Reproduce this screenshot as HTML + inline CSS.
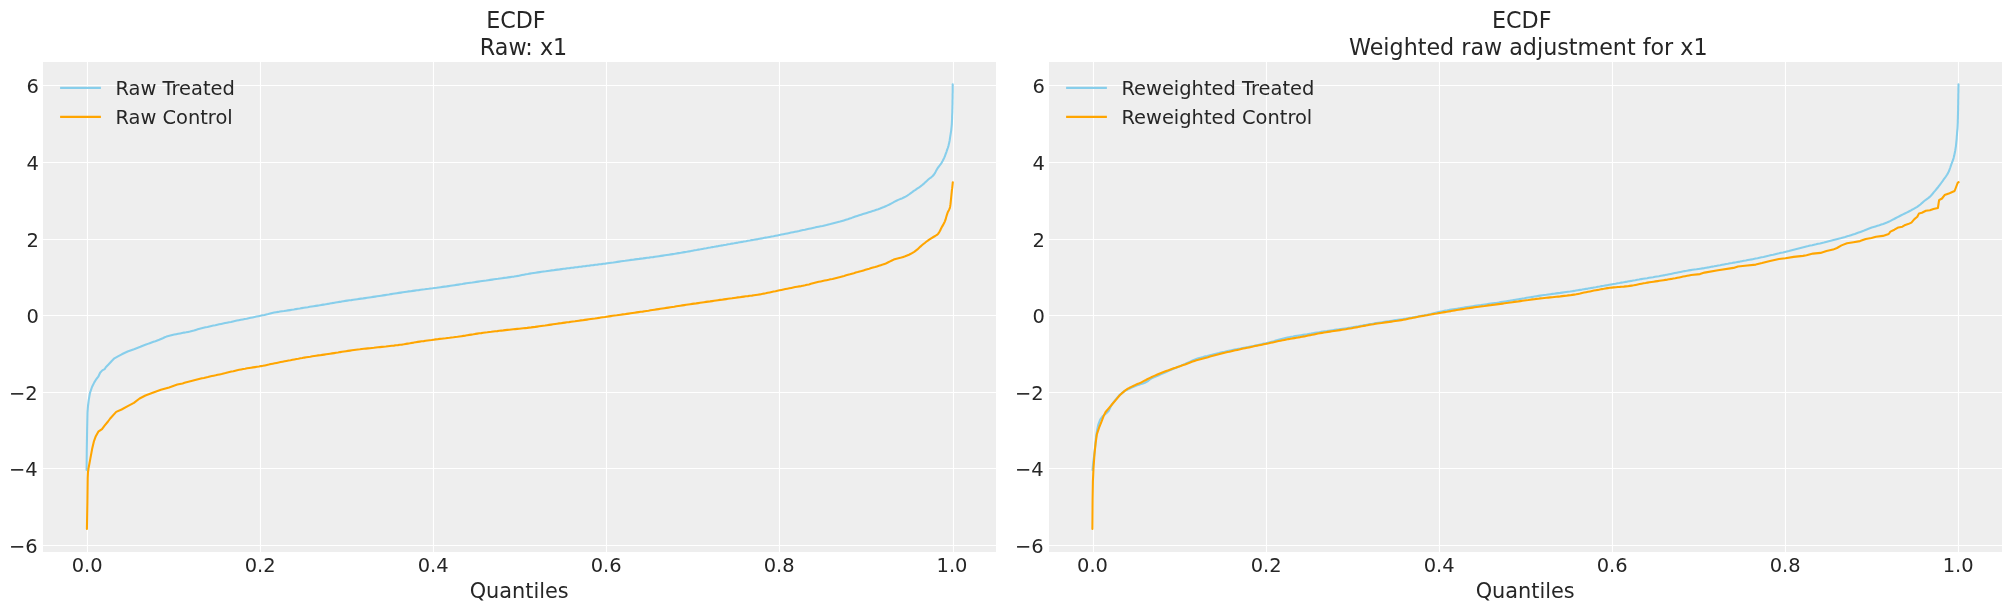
<!DOCTYPE html>
<html lang="en"><head><meta charset="utf-8"><title>ECDF</title>
<style>html,body{margin:0;padding:0;background:#fff}svg{display:block;will-change:transform;transform:translateZ(0)}text{font-family:"DejaVu Sans","Liberation Sans",sans-serif;fill:#262626}.tk{font-size:19.44px}.lb{font-size:20.83px}.tt{font-size:22.22px}.lg{font-size:19.44px}</style></head><body>
<svg width="2011" height="611" viewBox="0 0 2011 611">
<rect width="2011" height="611" fill="#ffffff"/>
<g id="panel0">
<rect x="43.0" y="62.0" width="953.0" height="490.0" fill="#eeeeee"/>
<path d="M87.5 62.0V552.0M260.5 62.0V552.0M433.5 62.0V552.0M606.5 62.0V552.0M779.5 62.0V552.0M953.5 62.0V552.0M43.0 85.5H996.0M43.0 162.5H996.0M43.0 239.5H996.0M43.0 315.5H996.0M43.0 392.5H996.0M43.0 468.5H996.0M43.0 545.5H996.0" stroke="#ffffff" stroke-width="1.11" fill="none"/>
<clipPath id="clip0"><rect x="43.0" y="62.0" width="953.0" height="490.0"/></clipPath>
<g clip-path="url(#clip0)">
<polyline points="86.6,470.0 86.8,449.1 87.1,430.7 87.5,412.3 88.0,406.0 88.8,399.6 90.0,392.8 92.0,387.0 94.3,382.4 96.4,379.0 98.3,376.7 100.1,372.7 102.3,370.4 104.6,369.2 105.8,367.3 108.7,364.3 111.5,361.2 114.4,358.3 118.4,356.1 121.8,354.3 127.6,351.5 134.0,349.2 134.7,348.9 136.6,348.2 138.5,347.5 140.4,346.8 142.2,346.0 144.1,345.3 146.0,344.6 147.8,343.9 149.7,343.2 151.6,342.5 153.5,341.8 155.4,341.2 157.3,340.5 159.2,339.8 161.0,339.0 162.8,338.2 164.7,337.3 166.5,336.6 168.4,336.0 170.3,335.5 172.3,335.0 174.3,334.6 176.2,334.2 178.2,333.8 180.2,333.4 182.1,333.0 184.1,332.6 186.1,332.3 188.1,331.9 190.0,331.5 192.0,331.0 193.9,330.5 195.8,329.9 197.7,329.3 199.7,328.8 201.6,328.3 203.6,327.8 205.5,327.3 207.5,326.9 209.4,326.4 211.4,326.0 213.3,325.6 215.3,325.2 217.3,324.7 219.2,324.3 221.2,323.9 223.1,323.5 225.1,323.1 227.1,322.7 229.0,322.3 231.0,321.9 233.0,321.4 234.9,321.0 236.9,320.6 238.8,320.2 240.8,319.8 242.8,319.4 244.7,319.0 246.7,318.7 248.7,318.2 250.6,317.8 252.6,317.4 254.6,317.0 256.5,316.6 258.5,316.2 260.4,315.8 262.4,315.3 264.4,314.9 266.3,314.4 268.3,314.0 270.2,313.5 272.2,313.0 274.1,312.6 276.1,312.2 278.1,311.9 280.0,311.5 282.0,311.2 284.0,311.0 286.0,310.7 288.0,310.4 290.0,310.1 291.9,309.8 293.9,309.5 295.9,309.1 297.9,308.8 299.9,308.5 301.8,308.1 303.8,307.8 305.8,307.5 307.8,307.2 309.7,306.8 311.7,306.5 313.7,306.2 315.7,305.9 317.7,305.6 319.6,305.3 321.6,304.9 323.6,304.6 325.6,304.3 327.6,303.9 329.5,303.6 331.5,303.2 333.5,302.9 335.5,302.5 337.4,302.2 339.4,301.9 341.4,301.6 343.4,301.2 345.4,300.9 347.3,300.6 349.3,300.3 351.3,300.1 353.3,299.8 355.3,299.5 357.3,299.2 359.2,298.9 361.2,298.6 363.2,298.4 365.2,298.1 367.2,297.8 369.2,297.5 371.2,297.2 373.1,296.9 375.1,296.6 377.1,296.3 379.1,296.0 381.1,295.7 383.1,295.4 385.0,295.1 387.0,294.8 389.0,294.5 391.0,294.1 393.0,293.8 394.9,293.5 396.9,293.2 398.9,292.9 400.9,292.6 402.9,292.3 404.8,292.0 406.8,291.7 408.8,291.4 410.8,291.2 412.8,290.9 414.8,290.6 416.8,290.3 418.7,290.1 420.7,289.8 422.7,289.5 424.7,289.3 426.7,289.0 428.7,288.8 430.7,288.5 432.7,288.3 434.7,288.0 436.6,287.8 438.6,287.5 440.6,287.2 442.6,286.9 444.6,286.6 446.6,286.4 448.6,286.1 450.5,285.8 452.5,285.5 454.5,285.2 456.5,284.9 458.5,284.6 460.4,284.3 462.4,284.0 464.4,283.6 466.4,283.3 468.4,283.0 470.4,282.7 472.3,282.5 474.3,282.2 476.3,281.9 478.3,281.6 480.3,281.3 482.3,281.0 484.3,280.7 486.2,280.5 488.2,280.2 490.2,279.9 492.2,279.6 494.2,279.3 496.2,279.0 498.1,278.8 500.1,278.5 502.1,278.2 504.1,277.9 506.1,277.7 508.1,277.4 510.1,277.1 512.1,276.8 514.0,276.6 516.0,276.2 518.0,275.9 520.0,275.5 521.9,275.1 523.9,274.7 525.9,274.3 527.8,274.0 529.8,273.6 531.8,273.3 533.8,273.0 535.7,272.7 537.7,272.4 539.7,272.1 541.7,271.8 543.7,271.5 545.7,271.3 547.7,271.0 549.6,270.7 551.6,270.4 553.6,270.2 555.6,269.9 557.6,269.6 559.6,269.4 561.6,269.1 563.6,268.8 565.5,268.6 567.5,268.3 569.5,268.1 571.5,267.8 573.5,267.6 575.5,267.3 577.5,267.1 579.5,266.8 581.5,266.6 583.5,266.3 585.4,266.1 587.4,265.8 589.4,265.6 591.4,265.3 593.4,265.1 595.4,264.8 597.4,264.6 599.4,264.3 601.4,264.1 603.3,263.8 605.3,263.6 607.3,263.3 609.3,263.0 611.3,262.7 613.3,262.5 615.3,262.2 617.3,261.9 619.2,261.6 621.2,261.3 623.2,261.0 625.2,260.8 627.2,260.5 629.2,260.2 631.1,259.9 633.1,259.7 635.1,259.4 637.1,259.1 639.1,258.9 641.1,258.6 643.1,258.4 645.1,258.1 647.1,257.8 649.0,257.6 651.0,257.3 653.0,257.1 655.0,256.8 657.0,256.5 659.0,256.2 661.0,255.9 662.9,255.6 664.9,255.3 666.9,255.0 668.9,254.7 670.9,254.4 672.8,254.1 674.8,253.8 676.8,253.4 678.8,253.1 680.8,252.8 682.7,252.4 684.7,252.1 686.7,251.8 688.7,251.4 690.6,251.1 692.6,250.7 694.6,250.3 696.6,250.0 698.5,249.6 700.5,249.3 702.5,248.9 704.4,248.5 706.4,248.2 708.4,247.8 710.4,247.5 712.3,247.1 714.3,246.8 716.3,246.4 718.3,246.1 720.2,245.7 722.2,245.4 724.2,245.0 726.2,244.7 728.1,244.3 730.1,244.0 732.1,243.6 734.1,243.3 736.0,242.9 738.0,242.6 740.0,242.2 742.0,241.9 743.9,241.5 745.9,241.2 747.9,240.8 749.9,240.5 751.8,240.1 753.8,239.8 755.8,239.4 757.8,239.1 759.7,238.7 761.7,238.4 763.7,238.0 765.6,237.6 767.6,237.3 769.6,236.9 771.6,236.5 773.5,236.2 775.5,235.8 777.5,235.4 779.4,235.0 781.4,234.6 783.4,234.2 785.3,233.8 787.3,233.4 789.3,233.0 791.2,232.6 793.2,232.2 795.1,231.8 797.1,231.4 799.1,231.0 801.0,230.5 803.0,230.1 804.9,229.7 806.9,229.2 808.9,228.8 810.8,228.4 812.8,228.0 814.8,227.6 816.7,227.1 818.7,226.7 820.6,226.3 822.6,225.9 824.6,225.4 826.5,225.0 828.5,224.5 830.4,224.1 832.4,223.6 834.3,223.1 836.3,222.6 838.2,222.1 840.1,221.6 842.0,221.0 843.9,220.4 845.8,219.8 847.8,219.2 849.7,218.5 851.6,217.9 853.4,217.2 855.3,216.5 857.2,215.9 859.2,215.3 861.1,214.7 863.0,214.1 864.9,213.5 866.8,212.9 868.7,212.3 870.7,211.7 872.6,211.1 874.5,210.5 876.4,209.8 878.3,209.2 880.1,208.5 882.0,207.7 883.9,207.0 885.7,206.2 887.5,205.4 889.4,204.5 891.1,203.6 892.9,202.6 894.6,201.6 896.4,200.7 898.2,199.9 900.1,199.1 902.0,198.4 903.8,197.5 905.6,196.6 907.3,195.6 908.9,194.5 910.5,193.3 912.2,192.1 913.8,190.9 915.5,189.8 917.1,188.7 918.8,187.6 920.5,186.4 922.0,185.2 923.6,183.9 925.0,182.6 926.5,181.2 928.0,179.8 929.5,178.5 931.2,177.3 932.7,176.0 934.0,174.5 935.1,172.9 936.0,171.1 937.0,169.3 938.0,167.6 939.3,166.0 940.5,164.4 941.6,162.8 942.6,161.0 943.5,159.2 944.4,157.4 945.1,155.6 945.8,153.7 946.5,151.8 947.1,149.9 947.8,148.0 948.4,146.1 948.9,144.1 949.3,142.2 949.7,140.2 950.0,138.2 950.3,136.2 950.6,134.3 950.9,132.3 951.2,130.3 951.4,128.3 951.6,126.3 951.8,124.3 951.9,122.3 952.0,120.3 952.1,118.3 952.1,116.3 952.2,114.3 952.3,112.3 952.3,110.3 952.4,108.3 952.4,106.3 952.5,104.3 952.5,102.2 952.5,100.2 952.6,98.2 952.6,96.2 952.6,94.2 952.7,92.2 952.7,90.2 952.7,88.2 952.7,86.2 952.7,84.2" fill="none" stroke="#87ceeb" stroke-width="2.08" stroke-linejoin="round" stroke-linecap="round"/>
<polyline points="86.9,528.9 87.4,502.0 87.7,478.0 88.0,472.0 88.5,468.5 90.3,458.9 92.1,449.1 94.0,441.1 95.8,436.2 98.3,431.7 102.0,429.1 104.4,425.8 108.0,421.5 110.2,418.5 116.2,411.9 121.6,409.5 128.2,405.9 133.9,402.9 139.6,398.5 145.4,395.5 152.7,392.8 160.9,389.8 169.1,387.4 177.3,384.6 182.6,383.4 184.5,382.8 186.4,382.3 188.4,381.8 190.3,381.3 192.3,380.8 194.2,380.3 196.1,379.8 198.1,379.3 200.0,378.8 202.0,378.3 203.9,377.9 205.9,377.4 207.9,377.0 209.8,376.5 211.8,376.1 213.7,375.7 215.7,375.3 217.7,374.8 219.6,374.4 221.6,374.0 223.6,373.5 225.5,373.1 227.5,372.6 229.4,372.1 231.4,371.6 233.3,371.2 235.3,370.7 237.2,370.2 239.2,369.8 241.2,369.4 243.1,369.0 245.1,368.7 247.1,368.3 249.1,368.0 251.1,367.7 253.0,367.4 255.0,367.1 257.0,366.8 259.0,366.5 261.0,366.1 262.9,365.8 264.9,365.4 266.9,365.0 268.8,364.6 270.8,364.1 272.8,363.7 274.7,363.3 276.7,362.9 278.7,362.5 280.6,362.1 282.6,361.7 284.6,361.3 286.5,360.9 288.5,360.5 290.5,360.2 292.5,359.8 294.4,359.4 296.4,359.0 298.4,358.7 300.4,358.3 302.3,358.0 304.3,357.6 306.3,357.3 308.3,357.0 310.3,356.7 312.3,356.3 314.2,356.0 316.2,355.7 318.2,355.4 320.2,355.2 322.2,354.9 324.2,354.6 326.2,354.3 328.1,354.0 330.1,353.7 332.1,353.4 334.1,353.1 336.1,352.8 338.1,352.5 340.1,352.1 342.0,351.8 344.0,351.5 346.0,351.2 348.0,350.9 350.0,350.6 352.0,350.3 354.0,350.0 355.9,349.7 357.9,349.5 359.9,349.3 361.9,349.0 363.9,348.8 365.9,348.6 367.9,348.4 369.9,348.2 371.9,348.0 373.9,347.8 375.9,347.5 377.9,347.3 379.9,347.1 381.9,346.9 383.9,346.7 385.9,346.5 387.9,346.2 389.9,346.0 391.9,345.8 393.9,345.6 395.9,345.3 397.9,345.1 399.9,344.8 401.8,344.6 403.8,344.3 405.8,343.9 407.8,343.6 409.8,343.3 411.7,342.9 413.7,342.6 415.7,342.2 417.7,341.9 419.7,341.6 421.7,341.3 423.7,341.1 425.6,340.8 427.6,340.5 429.6,340.2 431.6,340.0 433.6,339.7 435.6,339.4 437.6,339.2 439.6,338.9 441.6,338.7 443.6,338.5 445.6,338.3 447.6,338.0 449.6,337.8 451.6,337.5 453.5,337.3 455.5,337.0 457.5,336.8 459.5,336.5 461.5,336.2 463.5,335.9 465.5,335.6 467.4,335.2 469.4,334.9 471.4,334.6 473.4,334.3 475.4,333.9 477.4,333.6 479.3,333.3 481.3,333.1 483.3,332.8 485.3,332.5 487.3,332.3 489.3,332.0 491.3,331.8 493.3,331.5 495.3,331.3 497.3,331.1 499.3,330.8 501.3,330.6 503.3,330.4 505.3,330.1 507.3,329.9 509.3,329.7 511.3,329.5 513.3,329.3 515.2,329.1 517.2,328.9 519.2,328.7 521.2,328.5 523.2,328.3 525.2,328.1 527.2,327.9 529.2,327.6 531.2,327.4 533.2,327.1 535.2,326.9 537.2,326.6 539.2,326.3 541.2,326.0 543.2,325.7 545.1,325.5 547.1,325.2 549.1,324.9 551.1,324.6 553.1,324.3 555.1,324.0 557.1,323.7 559.1,323.4 561.1,323.2 563.0,322.9 565.0,322.6 567.0,322.3 569.0,322.1 571.0,321.8 573.0,321.5 575.0,321.3 577.0,321.0 579.0,320.7 580.9,320.4 582.9,320.2 584.9,319.9 586.9,319.6 588.9,319.3 590.9,319.0 592.9,318.7 594.9,318.5 596.9,318.2 598.8,317.9 600.8,317.5 602.8,317.2 604.8,317.0 606.8,316.7 608.8,316.4 610.8,316.1 612.7,315.8 614.7,315.5 616.7,315.3 618.7,315.0 620.7,314.7 622.7,314.4 624.7,314.2 626.7,313.9 628.7,313.6 630.6,313.3 632.6,313.0 634.6,312.7 636.6,312.4 638.6,312.1 640.6,311.8 642.6,311.6 644.6,311.3 646.5,311.0 648.5,310.7 650.5,310.3 652.5,310.0 654.5,309.7 656.5,309.4 658.5,309.1 660.4,308.8 662.4,308.5 664.4,308.2 666.4,307.9 668.4,307.6 670.4,307.3 672.3,307.0 674.3,306.7 676.3,306.3 678.3,306.0 680.3,305.7 682.3,305.4 684.3,305.1 686.2,304.8 688.2,304.5 690.2,304.2 692.2,303.9 694.2,303.6 696.2,303.4 698.2,303.1 700.1,302.8 702.1,302.5 704.1,302.2 706.1,301.9 708.1,301.6 710.1,301.4 712.1,301.1 714.1,300.8 716.1,300.5 718.0,300.2 720.0,299.9 722.0,299.7 724.0,299.4 726.0,299.1 728.0,298.8 730.0,298.5 732.0,298.3 734.0,298.0 735.9,297.7 737.9,297.4 739.9,297.2 741.9,296.9 743.9,296.6 745.9,296.3 747.9,296.1 749.9,295.8 751.9,295.6 753.9,295.3 755.8,295.0 757.8,294.7 759.8,294.4 761.8,294.0 763.8,293.6 765.7,293.3 767.7,292.8 769.7,292.4 771.6,292.0 773.6,291.6 775.5,291.2 777.5,290.7 779.5,290.3 781.4,289.9 783.4,289.5 785.4,289.1 787.3,288.7 789.3,288.3 791.3,287.9 793.2,287.5 795.2,287.1 797.2,286.7 799.2,286.4 801.2,286.1 803.1,285.7 805.1,285.3 807.0,284.8 809.0,284.4 810.9,283.8 812.9,283.3 814.8,282.8 816.8,282.3 818.7,281.8 820.7,281.4 822.7,281.0 824.6,280.6 826.6,280.2 828.6,279.8 830.5,279.3 832.5,278.9 834.4,278.4 836.4,277.9 838.3,277.4 840.3,276.9 842.2,276.4 844.1,275.9 846.1,275.3 848.0,274.8 849.9,274.3 851.9,273.7 853.8,273.2 855.7,272.6 857.7,272.1 859.6,271.5 861.5,271.0 863.5,270.4 865.4,269.8 867.3,269.2 869.2,268.7 871.2,268.1 873.1,267.5 875.0,267.0 877.0,266.4 878.9,265.8 880.8,265.2 882.7,264.6 884.6,263.9 886.4,263.2 888.3,262.3 890.1,261.4 891.9,260.5 893.7,259.6 895.6,258.9 897.5,258.4 899.4,257.9 901.4,257.5 903.3,256.9 905.2,256.3 907.1,255.5 909.0,254.7 910.8,253.8 912.5,252.8 914.2,251.8 915.8,250.6 917.4,249.4 918.9,248.0 920.4,246.6 921.9,245.3 923.4,244.0 925.0,242.8 926.6,241.5 928.2,240.3 929.9,239.2 931.6,238.1 933.4,237.0 935.2,236.0 936.9,234.9 938.2,233.7 939.3,232.1 940.3,230.3 941.1,228.4 942.1,226.6 943.1,224.9 944.1,223.1 944.9,221.3 945.6,219.4 946.1,217.5 946.7,215.5 947.3,213.6 948.0,211.7 949.0,209.9 949.8,208.1 950.2,206.2 950.5,204.2 950.7,202.2 950.9,200.2 951.1,198.2 951.3,196.2 951.5,194.2 951.7,192.2 951.9,190.2 952.2,188.2 952.4,186.2 952.6,184.2 952.8,182.2" fill="none" stroke="#ffa500" stroke-width="2.08" stroke-linejoin="round" stroke-linecap="round"/>
</g>
<text class="tk" x="38.8" y="93.0" text-anchor="end">6</text>
<text class="tk" x="38.8" y="170.0" text-anchor="end">4</text>
<text class="tk" x="38.8" y="247.0" text-anchor="end">2</text>
<text class="tk" x="38.8" y="323.0" text-anchor="end">0</text>
<text class="tk" x="37.7" y="400.0" text-anchor="end">−2</text>
<text class="tk" x="37.7" y="476.0" text-anchor="end">−4</text>
<text class="tk" x="37.7" y="553.0" text-anchor="end">−6</text>
<text class="tk" x="87.1" y="572.0" text-anchor="middle">0.0</text>
<text class="tk" x="260.1" y="572.0" text-anchor="middle">0.2</text>
<text class="tk" x="433.1" y="572.0" text-anchor="middle">0.4</text>
<text class="tk" x="606.1" y="572.0" text-anchor="middle">0.6</text>
<text class="tk" x="779.1" y="572.0" text-anchor="middle">0.8</text>
<text class="tk" x="952.0" y="572.0" text-anchor="middle">1.0</text>
<text class="lb" x="519.2" y="597.7" text-anchor="middle">Quantiles</text>
<text class="tt" x="515.9" y="27.8" text-anchor="middle">ECDF</text>
<text class="tt" x="523.5" y="54.8" text-anchor="middle">Raw: x1</text>
<path d="M60.1 87.9H100.9" stroke="#87ceeb" stroke-width="2.08" fill="none"/>
<text class="lg" x="115.4" y="95.1">Raw Treated</text>
<path d="M60.1 116.9H100.9" stroke="#ffa500" stroke-width="2.08" fill="none"/>
<text class="lg" x="115.4" y="124.1">Raw Control</text>
</g>
<g id="panel1">
<rect x="1049.0" y="62.0" width="953.0" height="490.0" fill="#eeeeee"/>
<path d="M1093.5 62.0V552.0M1266.5 62.0V552.0M1439.5 62.0V552.0M1612.5 62.0V552.0M1785.5 62.0V552.0M1958.5 62.0V552.0M1049.0 85.5H2002.0M1049.0 162.5H2002.0M1049.0 239.5H2002.0M1049.0 315.5H2002.0M1049.0 392.5H2002.0M1049.0 468.5H2002.0M1049.0 545.5H2002.0" stroke="#ffffff" stroke-width="1.11" fill="none"/>
<clipPath id="clip1"><rect x="1049.0" y="62.0" width="953.0" height="490.0"/></clipPath>
<g clip-path="url(#clip1)">
<polyline points="1092.5,470.0 1093.3,462.0 1094.4,453.8 1095.4,443.6 1096.2,435.6 1097.1,430.2 1098.3,424.6 1100.2,419.6 1102.4,416.6 1104.5,414.7 1106.6,412.9 1108.6,411.0 1110.4,407.2 1112.5,403.6 1115.8,399.4 1119.2,395.4 1124.0,391.4 1126.2,390.2 1128.0,389.3 1129.8,388.5 1131.7,387.6 1133.5,386.8 1135.4,386.0 1137.2,385.3 1139.1,384.7 1141.0,384.1 1142.9,383.4 1144.8,382.7 1146.6,381.8 1148.3,380.8 1149.9,379.5 1151.5,378.4 1153.3,377.5 1155.2,376.7 1157.0,376.0 1158.9,375.2 1160.7,374.4 1162.6,373.6 1164.4,372.8 1166.2,372.0 1168.1,371.1 1169.9,370.3 1171.7,369.5 1173.6,368.7 1175.4,368.0 1177.3,367.2 1179.1,366.4 1181.0,365.6 1182.8,364.9 1184.7,364.1 1186.5,363.3 1188.3,362.5 1190.2,361.6 1192.0,360.8 1193.8,360.0 1195.7,359.2 1197.5,358.6 1199.4,358.0 1201.4,357.4 1203.3,356.9 1205.3,356.3 1207.2,355.9 1209.1,355.4 1211.1,354.9 1213.0,354.4 1215.0,353.9 1216.9,353.4 1218.9,353.0 1220.8,352.5 1222.8,352.1 1224.7,351.7 1226.7,351.2 1228.7,350.8 1230.6,350.4 1232.6,350.0 1234.5,349.6 1236.5,349.2 1238.5,348.8 1240.5,348.5 1242.4,348.1 1244.4,347.7 1246.4,347.3 1248.3,347.0 1250.3,346.6 1252.3,346.2 1254.2,345.8 1256.2,345.3 1258.1,344.9 1260.1,344.5 1262.1,344.1 1264.0,343.6 1266.0,343.2 1267.9,342.7 1269.9,342.2 1271.8,341.7 1273.7,341.2 1275.7,340.6 1277.6,340.1 1279.5,339.5 1281.5,339.0 1283.4,338.5 1285.4,338.0 1287.3,337.6 1289.3,337.2 1291.2,336.8 1293.2,336.5 1295.2,336.1 1297.2,335.8 1299.1,335.5 1301.1,335.2 1303.1,334.9 1305.1,334.6 1307.1,334.3 1309.0,333.9 1311.0,333.6 1313.0,333.2 1315.0,332.9 1316.9,332.6 1318.9,332.3 1320.9,331.9 1322.9,331.6 1324.9,331.3 1326.8,331.1 1328.8,330.8 1330.8,330.5 1332.8,330.2 1334.8,329.9 1336.8,329.6 1338.8,329.4 1340.7,329.1 1342.7,328.8 1344.7,328.5 1346.7,328.2 1348.7,327.9 1350.6,327.6 1352.6,327.2 1354.6,326.9 1356.6,326.5 1358.5,326.2 1360.5,325.8 1362.5,325.5 1364.5,325.1 1366.4,324.8 1368.4,324.4 1370.4,324.1 1372.4,323.8 1374.3,323.4 1376.3,323.1 1378.3,322.8 1380.3,322.5 1382.3,322.2 1384.2,321.9 1386.2,321.6 1388.2,321.3 1390.2,321.0 1392.2,320.7 1394.2,320.4 1396.1,320.1 1398.1,319.8 1400.1,319.5 1402.1,319.2 1404.1,318.9 1406.0,318.6 1408.0,318.2 1410.0,317.9 1412.0,317.6 1414.0,317.2 1415.9,316.9 1417.9,316.6 1419.9,316.2 1421.9,315.8 1423.8,315.5 1425.8,315.1 1427.7,314.7 1429.7,314.3 1431.7,313.8 1433.6,313.3 1435.5,312.8 1437.5,312.2 1439.4,311.8 1441.4,311.4 1443.3,311.0 1445.3,310.6 1447.3,310.3 1449.3,309.9 1451.2,309.6 1453.2,309.3 1455.2,309.0 1457.2,308.7 1459.2,308.4 1461.1,308.0 1463.1,307.7 1465.1,307.4 1467.1,307.1 1469.1,306.8 1471.0,306.5 1473.0,306.2 1475.0,305.9 1477.0,305.6 1479.0,305.3 1481.0,305.1 1482.9,304.8 1484.9,304.5 1486.9,304.2 1488.9,303.9 1490.9,303.6 1492.9,303.3 1494.8,303.0 1496.8,302.8 1498.8,302.5 1500.8,302.1 1502.8,301.8 1504.8,301.5 1506.7,301.2 1508.7,300.9 1510.7,300.5 1512.7,300.2 1514.6,299.9 1516.6,299.5 1518.6,299.2 1520.6,298.9 1522.5,298.5 1524.5,298.2 1526.5,297.8 1528.5,297.5 1530.4,297.2 1532.4,296.9 1534.4,296.5 1536.4,296.2 1538.4,295.9 1540.3,295.6 1542.3,295.3 1544.3,295.0 1546.3,294.8 1548.3,294.5 1550.3,294.2 1552.3,293.9 1554.2,293.7 1556.2,293.4 1558.2,293.1 1560.2,292.9 1562.2,292.6 1564.2,292.3 1566.2,292.0 1568.1,291.7 1570.1,291.5 1572.1,291.2 1574.1,290.9 1576.1,290.5 1578.0,290.2 1580.0,289.9 1582.0,289.6 1584.0,289.2 1586.0,288.9 1587.9,288.6 1589.9,288.2 1591.9,287.9 1593.9,287.5 1595.8,287.2 1597.8,286.8 1599.8,286.5 1601.7,286.1 1603.7,285.8 1605.7,285.4 1607.7,285.1 1609.6,284.7 1611.6,284.4 1613.6,284.0 1615.6,283.7 1617.5,283.3 1619.5,283.0 1621.5,282.6 1623.5,282.3 1625.4,281.9 1627.4,281.6 1629.4,281.2 1631.3,280.9 1633.3,280.5 1635.3,280.2 1637.3,279.8 1639.2,279.5 1641.2,279.1 1643.2,278.8 1645.2,278.5 1647.2,278.2 1649.1,277.8 1651.1,277.5 1653.1,277.2 1655.1,276.8 1657.0,276.5 1659.0,276.2 1661.0,275.8 1663.0,275.4 1664.9,275.1 1666.9,274.7 1668.9,274.3 1670.8,273.9 1672.8,273.5 1674.7,273.1 1676.7,272.7 1678.7,272.3 1680.6,271.9 1682.6,271.5 1684.6,271.1 1686.6,270.8 1688.5,270.4 1690.5,270.1 1692.5,269.8 1694.5,269.5 1696.5,269.3 1698.4,269.0 1700.4,268.7 1702.4,268.4 1704.4,268.1 1706.4,267.7 1708.3,267.4 1710.3,267.0 1712.3,266.6 1714.2,266.3 1716.2,265.9 1718.2,265.5 1720.2,265.2 1722.1,264.8 1724.1,264.4 1726.1,264.0 1728.0,263.7 1730.0,263.3 1732.0,263.0 1734.0,262.6 1735.9,262.3 1737.9,261.9 1739.9,261.6 1741.8,261.2 1743.8,260.8 1745.8,260.5 1747.8,260.1 1749.7,259.7 1751.7,259.4 1753.7,259.0 1755.6,258.6 1757.6,258.2 1759.5,257.7 1761.5,257.3 1763.5,256.9 1765.4,256.4 1767.4,256.0 1769.3,255.6 1771.3,255.1 1773.2,254.7 1775.2,254.2 1777.1,253.7 1779.1,253.3 1781.0,252.8 1783.0,252.4 1784.9,251.9 1786.9,251.4 1788.8,251.0 1790.8,250.5 1792.7,250.0 1794.7,249.5 1796.6,249.0 1798.6,248.5 1800.5,248.0 1802.4,247.5 1804.4,247.0 1806.3,246.5 1808.3,246.1 1810.2,245.6 1812.2,245.2 1814.1,244.7 1816.1,244.3 1818.0,243.8 1820.0,243.4 1822.0,242.9 1823.9,242.5 1825.9,242.0 1827.8,241.5 1829.7,241.0 1831.7,240.5 1833.6,240.0 1835.6,239.5 1837.5,239.0 1839.4,238.5 1841.4,238.0 1843.3,237.4 1845.2,236.9 1847.2,236.3 1849.1,235.8 1851.0,235.2 1852.9,234.6 1854.8,234.0 1856.7,233.3 1858.6,232.6 1860.5,231.9 1862.3,231.2 1864.2,230.5 1866.1,229.7 1867.9,229.0 1869.8,228.3 1871.7,227.6 1873.6,227.0 1875.5,226.4 1877.4,225.8 1879.4,225.2 1881.3,224.5 1883.2,223.9 1885.1,223.2 1886.9,222.5 1888.7,221.7 1890.5,220.9 1892.3,219.9 1894.1,219.0 1895.9,218.0 1897.6,217.1 1899.4,216.2 1901.2,215.3 1903.0,214.4 1904.8,213.5 1906.6,212.6 1908.4,211.7 1910.2,210.8 1911.9,209.8 1913.7,208.9 1915.4,207.9 1917.2,206.8 1918.8,205.7 1920.4,204.5 1921.9,203.1 1923.4,201.8 1924.9,200.5 1926.5,199.3 1928.2,198.1 1929.7,196.9 1931.1,195.5 1932.4,194.0 1933.7,192.4 1935.0,190.9 1936.3,189.3 1937.6,187.8 1938.8,186.2 1940.0,184.6 1941.2,183.0 1942.4,181.4 1943.5,179.7 1944.7,178.1 1945.9,176.5 1947.0,174.8 1948.0,173.1 1948.9,171.3 1949.6,169.4 1950.3,167.5 1950.9,165.6 1951.6,163.7 1952.3,161.8 1953.0,160.0 1953.6,158.1 1954.1,156.1 1954.5,154.2 1954.9,152.2 1955.3,150.2 1955.6,148.2 1955.9,146.3 1956.1,144.3 1956.3,142.3 1956.5,140.3 1956.7,138.3 1956.8,136.3 1957.0,134.3 1957.1,132.3 1957.3,130.3 1957.5,128.3 1957.6,126.3 1957.7,124.3 1957.8,122.3 1957.8,120.3 1957.9,118.3 1957.9,116.3 1958.0,114.3 1958.0,112.3 1958.1,110.3 1958.1,108.2 1958.1,106.2 1958.2,104.2 1958.2,102.2 1958.2,100.2 1958.3,98.2 1958.3,96.2 1958.3,94.2 1958.4,92.2 1958.4,90.2 1958.4,88.2 1958.5,86.2 1958.5,84.2" fill="none" stroke="#87ceeb" stroke-width="2.08" stroke-linejoin="round" stroke-linecap="round"/>
<polyline points="1092.4,528.9 1092.6,500.0 1092.9,481.3 1093.2,474.9 1093.5,468.2 1094.5,453.8 1095.6,443.4 1096.9,434.2 1099.1,427.7 1101.7,421.1 1103.7,415.9 1105.6,412.0 1108.9,408.1 1112.8,403.5 1116.1,399.6 1120.0,395.0 1124.7,390.9 1126.1,389.8 1127.8,388.7 1129.5,387.8 1131.4,386.9 1133.2,386.0 1135.0,385.1 1136.8,384.3 1138.7,383.6 1140.6,382.8 1142.3,381.9 1144.1,380.9 1145.9,380.0 1147.7,379.0 1149.5,378.1 1151.3,377.3 1153.1,376.4 1154.9,375.6 1156.8,374.8 1158.6,374.0 1160.5,373.2 1162.3,372.5 1164.2,371.8 1166.1,371.1 1168.0,370.4 1169.9,369.7 1171.8,369.0 1173.7,368.3 1175.6,367.7 1177.5,367.0 1179.4,366.4 1181.3,365.8 1183.2,365.1 1185.1,364.5 1187.0,363.8 1188.9,363.1 1190.7,362.3 1192.6,361.6 1194.5,360.9 1196.4,360.3 1198.3,359.8 1200.3,359.2 1202.2,358.7 1204.2,358.2 1206.1,357.7 1208.0,357.2 1210.0,356.6 1211.9,356.1 1213.9,355.6 1215.8,355.1 1217.8,354.6 1219.7,354.1 1221.6,353.6 1223.6,353.1 1225.5,352.6 1227.5,352.1 1229.4,351.7 1231.4,351.2 1233.4,350.7 1235.3,350.3 1237.3,349.9 1239.2,349.5 1241.2,349.0 1243.2,348.6 1245.1,348.2 1247.1,347.8 1249.1,347.4 1251.1,347.0 1253.0,346.6 1255.0,346.1 1257.0,345.7 1258.9,345.3 1260.9,344.9 1262.9,344.5 1264.8,344.1 1266.8,343.7 1268.8,343.3 1270.7,342.8 1272.7,342.4 1274.6,342.0 1276.6,341.5 1278.6,341.1 1280.5,340.7 1282.5,340.3 1284.5,339.9 1286.4,339.5 1288.4,339.1 1290.4,338.8 1292.4,338.4 1294.4,338.1 1296.3,337.8 1298.3,337.4 1300.3,337.1 1302.3,336.7 1304.3,336.4 1306.2,336.0 1308.2,335.6 1310.2,335.2 1312.1,334.8 1314.1,334.4 1316.1,334.0 1318.0,333.6 1320.0,333.2 1322.0,332.9 1324.0,332.5 1326.0,332.2 1327.9,331.9 1329.9,331.6 1331.9,331.3 1333.9,331.0 1335.9,330.7 1337.9,330.4 1339.9,330.1 1341.9,329.8 1343.8,329.5 1345.8,329.2 1347.8,328.8 1349.8,328.5 1351.8,328.2 1353.7,327.8 1355.7,327.4 1357.7,327.1 1359.7,326.7 1361.6,326.3 1363.6,325.9 1365.6,325.6 1367.6,325.2 1369.6,324.8 1371.5,324.5 1373.5,324.2 1375.5,323.8 1377.5,323.5 1379.5,323.2 1381.5,323.0 1383.4,322.7 1385.4,322.4 1387.4,322.1 1389.4,321.9 1391.4,321.6 1393.4,321.3 1395.4,321.0 1397.4,320.8 1399.4,320.4 1401.4,320.1 1403.3,319.8 1405.3,319.4 1407.3,319.0 1409.2,318.6 1411.2,318.2 1413.2,317.8 1415.1,317.4 1417.1,317.0 1419.1,316.6 1421.1,316.2 1423.0,315.9 1425.0,315.5 1427.0,315.2 1429.0,314.8 1431.0,314.5 1432.9,314.1 1434.9,313.8 1436.9,313.5 1438.9,313.1 1440.9,312.8 1442.8,312.4 1444.8,312.1 1446.8,311.8 1448.8,311.4 1450.8,311.1 1452.7,310.7 1454.7,310.4 1456.7,310.0 1458.7,309.7 1460.7,309.4 1462.7,309.1 1464.6,308.8 1466.6,308.4 1468.6,308.2 1470.6,307.9 1472.6,307.6 1474.6,307.3 1476.6,307.0 1478.6,306.8 1480.6,306.5 1482.5,306.2 1484.5,306.0 1486.5,305.7 1488.5,305.4 1490.5,305.2 1492.5,304.9 1494.5,304.7 1496.5,304.4 1498.5,304.1 1500.5,303.9 1502.5,303.6 1504.5,303.3 1506.4,303.0 1508.4,302.8 1510.4,302.5 1512.4,302.2 1514.4,301.9 1516.4,301.6 1518.4,301.4 1520.4,301.1 1522.4,300.8 1524.4,300.5 1526.3,300.2 1528.3,300.0 1530.3,299.7 1532.3,299.4 1534.3,299.2 1536.3,298.9 1538.3,298.7 1540.3,298.4 1542.3,298.2 1544.3,298.0 1546.3,297.8 1548.3,297.6 1550.3,297.4 1552.3,297.2 1554.3,297.0 1556.3,296.8 1558.3,296.6 1560.3,296.4 1562.3,296.1 1564.3,295.9 1566.3,295.7 1568.3,295.4 1570.3,295.2 1572.3,294.9 1574.2,294.6 1576.2,294.3 1578.2,293.9 1580.2,293.5 1582.1,293.0 1584.1,292.6 1586.1,292.2 1588.0,291.8 1590.0,291.4 1592.0,291.0 1593.9,290.6 1595.9,290.2 1597.9,289.9 1599.9,289.5 1601.9,289.1 1603.8,288.8 1605.8,288.4 1607.8,288.1 1609.8,287.8 1611.8,287.6 1613.8,287.4 1615.8,287.2 1617.8,287.0 1619.8,286.9 1621.8,286.7 1623.8,286.6 1625.8,286.4 1627.8,286.2 1629.8,285.9 1631.8,285.6 1633.7,285.3 1635.7,284.9 1637.7,284.5 1639.7,284.1 1641.6,283.7 1643.6,283.3 1645.6,283.0 1647.6,282.6 1649.5,282.3 1651.5,282.0 1653.5,281.7 1655.5,281.4 1657.5,281.1 1659.5,280.8 1661.5,280.5 1663.5,280.2 1665.4,279.9 1667.4,279.6 1669.4,279.2 1671.4,278.9 1673.4,278.5 1675.3,278.2 1677.3,277.8 1679.3,277.4 1681.3,277.0 1683.2,276.6 1685.2,276.2 1687.2,275.8 1689.1,275.4 1691.1,275.0 1700.0,274.1 1704.5,272.6 1718.0,270.3 1733.5,267.9 1738.0,266.5 1745.0,265.7 1755.8,264.6 1762.0,263.1 1770.0,260.9 1779.0,259.0 1785.5,258.2 1793.6,256.9 1803.0,255.9 1806.5,255.3 1813.0,253.6 1820.5,252.9 1826.5,251.1 1833.0,249.6 1837.0,248.0 1841.5,245.4 1847.0,243.3 1853.5,242.2 1860.0,241.1 1865.7,239.0 1871.5,237.9 1876.0,236.7 1882.9,235.9 1888.7,234.0 1890.4,231.6 1894.4,229.7 1898.4,227.4 1902.4,226.7 1905.3,224.9 1908.1,224.1 1911.4,222.6 1914.4,219.1 1917.3,216.8 1919.0,213.4 1921.9,212.8 1925.9,210.8 1929.9,210.2 1933.4,209.0 1937.9,208.0 1939.1,200.2 1942.0,198.5 1944.6,195.1 1948.8,193.6 1951.7,192.2 1954.6,191.0 1956.3,186.5 1957.7,182.8 1958.6,182.1" fill="none" stroke="#ffa500" stroke-width="2.08" stroke-linejoin="round" stroke-linecap="round"/>
</g>
<text class="tk" x="1044.8" y="93.0" text-anchor="end">6</text>
<text class="tk" x="1044.8" y="170.0" text-anchor="end">4</text>
<text class="tk" x="1044.8" y="247.0" text-anchor="end">2</text>
<text class="tk" x="1044.8" y="323.0" text-anchor="end">0</text>
<text class="tk" x="1043.7" y="400.0" text-anchor="end">−2</text>
<text class="tk" x="1043.7" y="476.0" text-anchor="end">−4</text>
<text class="tk" x="1043.7" y="553.0" text-anchor="end">−6</text>
<text class="tk" x="1092.5" y="572.0" text-anchor="middle">0.0</text>
<text class="tk" x="1266.1" y="572.0" text-anchor="middle">0.2</text>
<text class="tk" x="1439.1" y="572.0" text-anchor="middle">0.4</text>
<text class="tk" x="1612.1" y="572.0" text-anchor="middle">0.6</text>
<text class="tk" x="1785.1" y="572.0" text-anchor="middle">0.8</text>
<text class="tk" x="1958.1" y="572.0" text-anchor="middle">1.0</text>
<text class="lb" x="1525.2" y="597.7" text-anchor="middle">Quantiles</text>
<text class="tt" x="1521.7" y="27.8" text-anchor="middle">ECDF</text>
<text class="tt" x="1528.3" y="54.8" text-anchor="middle">Weighted raw adjustment for x1</text>
<path d="M1066.1 87.9H1106.9" stroke="#87ceeb" stroke-width="2.08" fill="none"/>
<text class="lg" x="1121.4" y="95.1">Reweighted Treated</text>
<path d="M1066.1 116.9H1106.9" stroke="#ffa500" stroke-width="2.08" fill="none"/>
<text class="lg" x="1121.4" y="124.1">Reweighted Control</text>
</g>
</svg></body></html>
